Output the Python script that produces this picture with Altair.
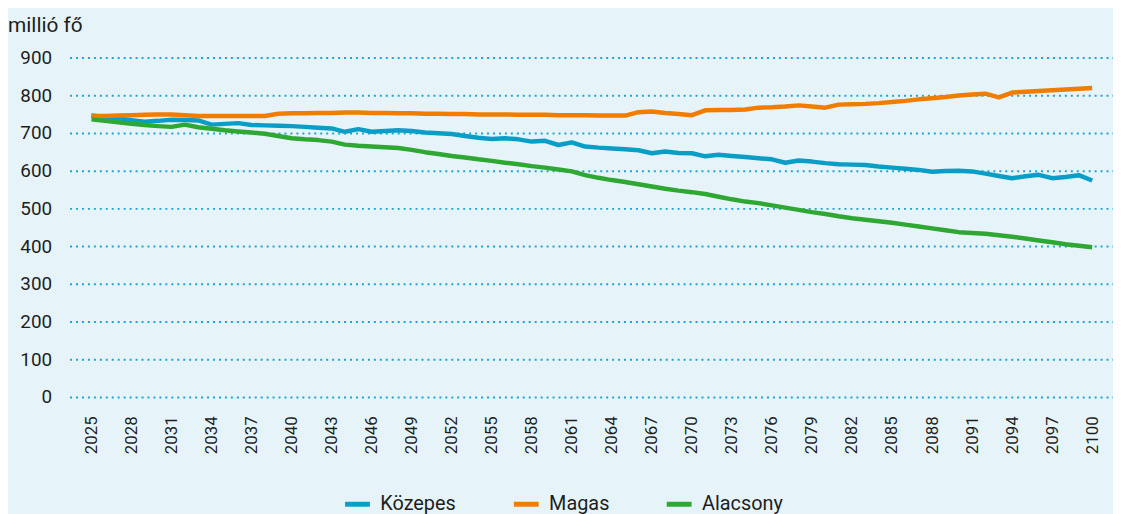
import altair as alt
import pandas as pd

years = list(range(2025, 2101))

kozepes = [746, 742, 738, 734, 730, 732, 735, 734, 733, 722,
           724, 726, 721, 720, 719, 718, 716, 714, 712, 703,
           710, 703, 705, 707, 705, 701, 699, 697, 692, 687,
           684, 686, 683, 677, 679, 668, 675, 664, 661, 659,
           657, 654, 646, 651, 647, 646, 638, 642, 639, 636,
           633, 630, 621, 627, 624, 620, 617, 616, 615, 611,
           608, 605, 602, 597, 599, 600, 598, 592, 586, 580,
           585, 589, 580, 583, 588, 574]

magas = [745, 745, 746, 747, 748, 749, 749, 747, 745, 745,
         745, 745, 745, 745, 751, 752, 752, 753, 753, 754,
         754, 753, 753, 752, 752, 751, 751, 750, 750, 749,
         749, 749, 748, 748, 748, 747, 747, 747, 746, 746,
         746, 755, 757, 753, 750, 747, 760, 761, 761, 762,
         767, 768, 770, 773, 770, 767, 775, 776, 777, 779,
         782, 785, 789, 792, 795, 799, 802, 804, 794, 807,
         809, 811, 813, 815, 817, 819]

alacsony = [736, 732, 728, 724, 721, 718, 716, 722, 715, 711,
            707, 704, 701, 698, 692, 686, 683, 681, 677, 669,
            666, 664, 662, 660, 655, 649, 644, 639, 635, 630,
            626, 621, 617, 612, 608, 603, 598, 588, 581, 575,
            570, 564, 558, 552, 547, 543, 538, 531, 524, 518,
            514, 508, 502, 496, 490, 485, 479, 474, 470, 466,
            462, 457, 452, 447, 442, 437, 435, 433, 429, 425,
            420, 415, 410, 405, 401, 397]

series_names = ["Közepes", "Magas", "Alacsony"]
series_colors = ["#0a9ec6", "#f17d00", "#2fa733"]
x_ticks = list(range(2025, 2101, 3))
y_ticks = [0, 100, 200, 300, 400, 500, 600, 700, 800, 900]

rows = []
for name, vals in zip(series_names, [kozepes, magas, alacsony]):
    for yr, v in zip(years, vals):
        rows.append({"ev": yr, "ertek": v, "valtozat": name})
df = pd.DataFrame(rows)

FONT = "Roboto"
TXT = "#1e1e1e"

chart = alt.Chart(df).mark_line(strokeWidth=4.5, strokeJoin="round", strokeCap="butt").encode(
    x=alt.X("ev:Q",
            scale=alt.Scale(domain=[2023.36, 2101.56], nice=False, zero=False),
            axis=alt.Axis(values=x_ticks, format="d", labelAngle=-90, title=None,
                          grid=False, domain=False, ticks=False, labelPadding=19,
                          labelFontSize=17, labelColor=TXT, labelFont=FONT,
                          labelBaseline="middle", labelAlign="right")),
    y=alt.Y("ertek:Q",
            scale=alt.Scale(domain=[0, 900], nice=False),
            axis=alt.Axis(values=y_ticks, title=None, domain=False, ticks=False,
                          labelPadding=18, labelFontSize=19, labelColor=TXT,
                          labelFont=FONT, grid=True, gridColor="#1ba6d2",
                          gridDash=[2, 4], gridWidth=2)),
    color=alt.Color("valtozat:N",
                    scale=alt.Scale(domain=series_names, range=series_colors),
                    sort=series_names,
                    legend=alt.Legend(title=None, orient="none", direction="horizontal",
                                      legendX=275, legendY=435, symbolType="stroke",
                                      symbolStrokeWidth=5, symbolSize=625,
                                      labelFontSize=20, labelFont=FONT,
                                      labelColor=TXT, labelOffset=8,
                                      columnPadding=47, padding=0)),
).properties(
    width=1051,
    height=342,
    title=alt.TitleParams(text="millió fő", anchor="start", frame="group",
                          dx=-62, offset=13, fontSize=21, font=FONT,
                          fontWeight="normal", color=TXT),
    autosize=alt.AutoSizeParams(type="none"),
    padding={"left": 62, "top": 48, "right": 0, "bottom": 116},
).configure(
    background="#e6f4f9"
).configure_view(
    stroke=None
)

chart.save("out.html", embed_options={"renderer": "svg", "actions": False})
